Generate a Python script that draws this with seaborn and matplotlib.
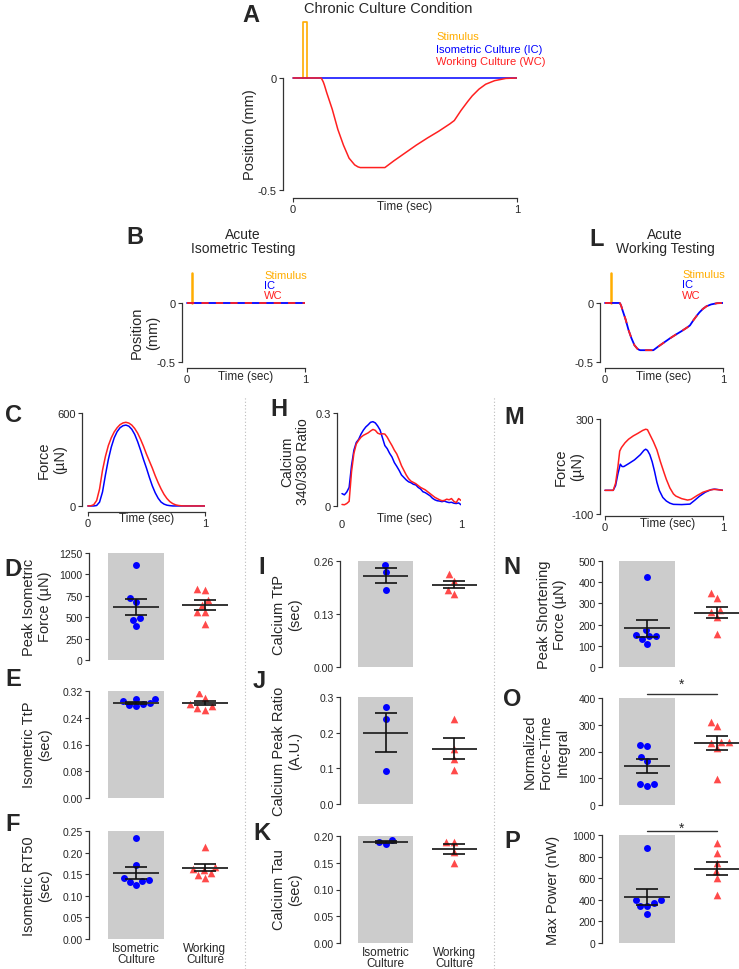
import matplotlib
matplotlib.use("Agg")
import matplotlib.pyplot as plt
import pandas as pd
import seaborn as sns
from matplotlib.lines import Line2D

sns.set_style("ticks")
plt.rcParams["font.family"] = ["Liberation Sans", "DejaVu Sans"]
plt.rcParams["axes.linewidth"] = 0.9
plt.rcParams["axes.edgecolor"] = "#333333"

W, H = 739, 970
BLUE = "#0000ff"
RED = "#ff2020"
TRI = "#ff4a4a"
ORANGE = "#ffad00"
GRAY = "#cccccc"
INK = "#333333"

# ---- position traces (A, B, L) ----
ic_t = [0, 1]
ic_pos = [0, 0]
wc_t = [0, 0.05, 0.10, 0.125, 0.13, 0.135, 0.14, 0.15, 0.175, 0.2, 0.225, 0.25, 0.275, 0.29, 0.3,
        0.35, 0.41, 0.45, 0.5, 0.55, 0.6, 0.65, 0.7, 0.72, 0.75, 0.78, 0.8, 0.83, 0.86, 0.9, 0.95, 1.0]
wc_pos = [0, 0, 0, 0, -0.008, -0.018, -0.032, -0.065, -0.14, -0.23, -0.30, -0.358, -0.388, -0.397,
          -0.40, -0.40, -0.40, -0.37, -0.335, -0.30, -0.268, -0.238, -0.205, -0.19, -0.145, -0.105,
          -0.08, -0.05, -0.028, -0.012, -0.002, 0]
stim_a_x = [0.043, 0.043, 0.061, 0.061]
stim_a_y = [0, 0.25, 0.25, 0]
stim_b_x = [0.04, 0.04]
stim_l_x = [0.055, 0.055]
stim_y = [0, 0.25]

# ---- C: isometric force traces ----
c_t = [0, .025, .05, .075, .1, .125, .15, .175, .2, .225, .25, .275, .3, .325, .35, .375, .4,
       .425, .45, .475, .5, .525, .55, .575, .6, .625, .65, .675, .7, .725, .75, .775, .8,
       .825, .85, .875, .9, .925, .95, .975, 1]
c_ic = [0, 0, 0, 3, 25, 90, 200, 300, 380, 440, 480, 505, 518, 522, 515, 495, 462, 415, 360,
        300, 245, 185, 130, 85, 50, 25, 12, 5, 2, 0, 0, 0, 0, 0, 0, 0, 0, 0, 0, 0, 0]
c_wc = [0, 1, 8, 35, 110, 230, 320, 390, 440, 478, 505, 525, 536, 540, 535, 522, 500, 470, 430,
        385, 335, 290, 245, 195, 150, 110, 75, 48, 28, 15, 7, 3, 1, 0, 0, 0, 0, 0, 0, 0, 0]

# ---- H: calcium traces ----
h_t = [0.00, 0.02, 0.04, 0.06, 0.08, 0.10, 0.12, 0.14, 0.16, 0.18, 0.20, 0.22, 0.24, 0.26, 0.28,
       0.30, 0.32, 0.34, 0.36, 0.38, 0.40, 0.42, 0.44, 0.46, 0.48, 0.50, 0.52, 0.54, 0.56, 0.58,
       0.60, 0.62, 0.64, 0.66, 0.68, 0.70, 0.72, 0.74, 0.76, 0.78, 0.80, 0.82, 0.84, 0.86, 0.88,
       0.90, 0.92, 0.94, 0.96, 0.98, 1.00]
h_ic = [0.040, 0.036, 0.045, 0.060, 0.130, 0.180, 0.205, 0.215, 0.232, 0.245, 0.255, 0.262,
        0.270, 0.272, 0.268, 0.258, 0.245, 0.220, 0.195, 0.185, 0.170, 0.158, 0.140, 0.128,
        0.115, 0.100, 0.092, 0.084, 0.078, 0.075, 0.070, 0.068, 0.060, 0.055, 0.046, 0.043,
        0.038, 0.033, 0.025, 0.020, 0.017, 0.016, 0.014, 0.016, 0.013, 0.011, 0.012, 0.009,
        0.008, 0.010, 0.004]
h_wc = [0.005, 0.004, 0.008, 0.015, 0.110, 0.170, 0.200, 0.212, 0.222, 0.228, 0.232, 0.236,
        0.242, 0.247, 0.244, 0.235, 0.232, 0.233, 0.232, 0.222, 0.208, 0.195, 0.180, 0.168,
        0.150, 0.130, 0.115, 0.100, 0.088, 0.080, 0.076, 0.072, 0.066, 0.060, 0.056, 0.052,
        0.046, 0.040, 0.034, 0.028, 0.024, 0.020, 0.017, 0.018, 0.022, 0.020, 0.024, 0.015,
        0.011, 0.024, 0.018]

# ---- M: working force traces ----
m_ic_t = [0, 0.07, 0.09, 0.11, 0.13, 0.145, 0.16, 0.2, 0.25, 0.3, 0.33, 0.345, 0.36, 0.38, 0.4,
          0.42, 0.44, 0.46, 0.49, 0.52, 0.55, 0.58, 0.65, 0.72, 0.76, 0.8, 0.85, 0.9, 0.93, 0.96, 1.0]
m_ic_f = [0, 0, 20, 70, 110, 100, 100, 112, 128, 150, 168, 173, 168, 150, 120, 80, 34, 0, -30,
          -45, -54, -59, -60, -58, -42, -25, -8, 3, 5, 3, 0]
m_wc_t = [0, 0.07, 0.09, 0.11, 0.125, 0.14, 0.17, 0.2, 0.24, 0.28, 0.32, 0.345, 0.36, 0.38, 0.41,
          0.44, 0.47, 0.5, 0.52, 0.55, 0.58, 0.6, 0.65, 0.7, 0.73, 0.78, 0.83, 0.88, 0.92, 0.95, 1.0]
m_wc_f = [0, 0, 30, 100, 165, 180, 200, 215, 229, 240, 252, 257, 255, 235, 205, 170, 120, 75, 46,
          10, -15, -24, -35, -41, -38, -22, -8, 0, 4, 3, 0]

# ---- scatter panels: individual values, mean, sem (IC, WC) ----
groups = ["Isometric\nCulture", "Working\nCulture"]
d_ic = [1110, 720, 675, 488, 465, 392]
d_wc = [834, 818, 701, 643, 562, 562, 419]
d_mean, d_sem = [624, 640], [93, 60]
e_ic = [0.289, 0.274, 0.283, 0.295, 0.277, 0.297, 0.282]
e_wc = [0.313, 0.299, 0.281, 0.264, 0.270, 0.275]
e_mean, e_sem = [0.284, 0.284], [0.003, 0.0055]
f_ic = [0.233, 0.171, 0.142, 0.135, 0.133, 0.137, 0.125]
f_wc = [0.212, 0.163, 0.167, 0.160, 0.152, 0.148, 0.141]
f_mean, f_sem = [0.153, 0.165], [0.014, 0.008]
i_ic = [0.250, 0.233, 0.189]
i_wc = [0.227, 0.212, 0.190, 0.178]
i_mean, i_sem = [0.224, 0.202], [0.018, 0.009]
j_ic = [0.273, 0.239, 0.092]
j_wc = [0.239, 0.155, 0.126, 0.096]
j_mean, j_sem = [0.200, 0.155], [0.055, 0.030]
k_ic = [0.185, 0.193, 0.189]
k_wc = [0.188, 0.189, 0.170, 0.150]
k_mean, k_sem = [0.189, 0.176], [0.002, 0.009]
n_ic = [425, 175, 151, 146, 134, 146, 110]
n_wc = [348, 324, 269, 259, 236, 154]
n_mean, n_sem = [183, 257], [40, 25]
o_ic = [219, 225, 181, 165, 71, 78, 78]
o_wc = [312, 294, 236, 236, 230, 212, 96]
o_mean, o_sem = [145, 231], [26, 27]
p_ic = [880, 394, 394, 370, 342, 342, 271]
p_wc = [926, 836, 740, 670, 600, 441]
p_mean, p_sem = [427, 688], [77, 62]

fig = plt.figure(figsize=(W / 100, H / 100), dpi=100)


def px_axes(x0, x1, y0, y1):
    return fig.add_axes([x0 / W, 1 - y1 / H, (x1 - x0) / W, (y1 - y0) / H])


def fxy(x, y):
    return x / W, 1 - y / H


def ftext(x, y, s, **kw):
    fig.text(*fxy(x, y), s, **kw)


def trace_axes(box, xlim, ylim, ybounds, yticks, ylabels, ylabel, ylab_xy, xlab_xy, bottom_line=True):
    ax = px_axes(*box)
    ax.set_xlim(*xlim)
    ax.set_ylim(*ylim)
    sns.despine(ax=ax)
    ax.spines["left"].set_bounds(*ybounds)
    ax.spines["bottom"].set_bounds(0, 1)
    if not bottom_line:
        ax.spines["bottom"].set_visible(False)
    ax.set_xticks([0, 1], ["0", "1"])
    ax.set_yticks(yticks, ylabels)
    ax.tick_params(length=3, width=0.8, color=INK, labelsize=8, pad=1.5)
    if not bottom_line:
        ax.tick_params(axis="x", length=0, pad=5)
    if ylabel:
        ax.set_ylabel(ylabel, fontsize=10.5, va="center")
        ax.yaxis.set_label_coords(*fxy(*ylab_xy), transform=fig.transFigure)
    ax.set_xlabel("Time (sec)", fontsize=8.5, va="center")
    ax.xaxis.set_label_coords(*fxy(*xlab_xy), transform=fig.transFigure)
    return ax


def line(ax, x, y, color, lw=1.1, **kw):
    sns.lineplot(x=x, y=y, ax=ax, color=color, lw=lw, sort=False, estimator=None, **kw)


# ---- A ----
ax = trace_axes((283, 517, 18.5, 198.8), (-0.045, 1.0), (-0.535, 0.27), (-0.5, 0), [-0.5, 0],
                ["-0.5", "0"], "Position (mm)", (250, 135), (405, 207))
line(ax, stim_a_x, stim_a_y, ORANGE, lw=1.2)
line(ax, ic_t, ic_pos, BLUE)
line(ax, wc_t, wc_pos, RED)
ftext(388, 9, "Chronic Culture Condition", fontsize=10.5, ha="center", va="center")
for yy, s, c in [(37, "Stimulus", ORANGE), (50, "Isometric Culture (IC)", BLUE), (62, "Working Culture (WC)", RED)]:
    ftext(436, yy, s, color=c, fontsize=8, ha="left", va="center")

# ---- B ----
ax = trace_axes((182, 305, 272.1, 368.9), (-0.042, 1.0), (-0.55, 0.27), (-0.5, 0), [-0.5, 0],
                ["-0.5", "0"], "Position\n(mm)", (145, 333), (246, 377))
line(ax, stim_b_x, stim_y, ORANGE, lw=1.8)
line(ax, ic_t, ic_pos, BLUE, lw=1.3)
line(ax, ic_t, ic_pos, RED, lw=1.3, linestyle=(0, (4, 4)))
ftext(243, 242, "Acute\nIsometric Testing", fontsize=10, ha="center", va="center", linespacing=0.95)
for yy, s, c in [(276, "Stimulus", ORANGE), (286, "IC", BLUE), (296, "WC", RED)]:
    ftext(264, yy, s, color=c, fontsize=8, ha="left", va="center")

# ---- L ----
ax = trace_axes((600, 723, 272.1, 368.9), (-0.042, 1.0), (-0.55, 0.27), (-0.5, 0), [-0.5, 0],
                ["-0.5", "0"], None, None, (664, 377))
line(ax, stim_l_x, stim_y, ORANGE, lw=1.8)
line(ax, wc_t, wc_pos, BLUE, lw=1.3)
line(ax, wc_t, wc_pos, RED, lw=1.3, linestyle=(0, (4, 4)))
ftext(665, 242, "Acute\nWorking Testing", fontsize=10, ha="center", va="center", linespacing=0.95)
for yy, s, c in [(275, "Stimulus", ORANGE), (285, "IC", BLUE), (296, "WC", RED)]:
    ftext(682, yy, s, color=c, fontsize=8, ha="left", va="center")

# ---- C ----
ax = trace_axes((82, 205, 414, 513), (-0.05, 1.0), (-39, 600), (0, 600), [0, 600], ["0", "600"],
                "Force\n(µN)", (52, 460), (147, 519))
line(ax, c_t, c_ic, BLUE)
line(ax, c_t, c_wc, RED)

# ---- H ----
ax = trace_axes((337, 461, 414, 513.2), (-0.042, 1.0), (-0.02, 0.3), (0, 0.3), [0, 0.3], ["0", "0.3"],
                "Calcium\n340/380 Ratio", (295, 462), (405, 519), bottom_line=False)
ax.yaxis.label.set_fontsize(10)
line(ax, h_t, h_ic, BLUE)
line(ax, h_t, h_wc, RED)

# ---- M ----
ax = trace_axes((600, 723, 420, 517), (-0.042, 1.0), (-108, 300), (-100, 300), [-100, 300],
                ["-100", "300"], "Force\n(µN)", (569, 467), (668, 524))
line(ax, m_ic_t, m_ic_f, BLUE)
line(ax, m_wc_t, m_wc_f, RED)


# ---- scatter panels ----
def dot_panel(box, xlim, ymax, yticks, ylabels, iso, work, means, sems, ylabel, lab_xy, bottom=False, sig=None):
    ax = px_axes(*box)
    ax.axvspan(-0.4, 0.4, color=GRAY, lw=0, zorder=0)
    df = pd.DataFrame({"group": [groups[0]] * len(iso) + [groups[1]] * len(work),
                       "value": list(iso) + list(work)})
    sns.swarmplot(data=df[df.group == groups[0]], x="group", y="value", order=groups,
                  color=BLUE, marker="o", size=5, ax=ax, zorder=2)
    sns.swarmplot(data=df[df.group == groups[1]], x="group", y="value", order=groups,
                  color=TRI, marker="^", size=5.5, ax=ax, zorder=2)
    ax.hlines(means, [-0.33, 0.67], [0.33, 1.33], color=INK, lw=1.4, zorder=3, clip_on=False)
    ax.errorbar([0, 1], means, yerr=sems, fmt="none", ecolor="#111111", elinewidth=1.2,
                capsize=8, capthick=1.2, zorder=4)
    ax.set_xlim(*xlim)
    ax.set_ylim(0, ymax)
    for s in ["top", "right", "bottom"]:
        ax.spines[s].set_visible(False)
    ax.set_yticks(yticks, ylabels)
    ax.tick_params(axis="y", length=3, width=0.8, color=INK, labelsize=7.5, pad=1.5)
    ax.tick_params(axis="x", length=0, labelsize=8.5, pad=2)
    ax.set_xlabel("")
    if bottom:
        ax.set_xticks([0, 1], groups)
        for t in ax.get_xticklabels():
            t.set_linespacing(0.95)
    else:
        ax.set_xticks([0, 1], ["", ""])
    ax.set_ylabel(ylabel, fontsize=10.5, va="center")
    ax.yaxis.set_label_coords(*fxy(*lab_xy), transform=fig.transFigure)
    if sig is not None:
        ax.plot([0, 1], [sig[0], sig[0]], color=INK, lw=1.0, clip_on=False)
        ax.text(0.5, sig[1], "*", ha="center", va="center", fontsize=10, clip_on=False)
    return ax


col1 = (89, 236, (-0.68, 1.45))
col2 = (340, 485, (-0.67, 1.45))
col3 = (602, 739, (-0.65, 1.32))

dot_panel((col1[0], col1[1], 554, 661), col1[2], 1250, [0, 250, 500, 750, 1000, 1250],
          ["0", "250", "500", "750", "1000", "1250"], d_ic, d_wc, d_mean, d_sem,
          "Peak Isometric\nForce (µN)", (37, 607))
dot_panel((col1[0], col1[1], 692, 799), col1[2], 0.32, [0, 0.08, 0.16, 0.24, 0.32],
          ["0.00", "0.08", "0.16", "0.24", "0.32"], e_ic, e_wc, e_mean, e_sem,
          "Isometric TtP\n(sec)", (37, 745))
dot_panel((col1[0], col1[1], 832, 940), col1[2], 0.25, [0, 0.05, 0.10, 0.15, 0.20, 0.25],
          ["0.00", "0.05", "0.10", "0.15", "0.20", "0.25"], f_ic, f_wc, f_mean, f_sem,
          "Isometric RT50\n(sec)", (37, 886), bottom=True)

dot_panel((col2[0], col2[1], 562, 668), col2[2], 0.26, [0, 0.13, 0.26], ["0.00", "0.13", "0.26"],
          i_ic, i_wc, i_mean, i_sem, "Calcium TtP\n(sec)", (287, 615))
dot_panel((col2[0], col2[1], 698, 805), col2[2], 0.3, [0, 0.1, 0.2, 0.3], ["0.0", "0.1", "0.2", "0.3"],
          j_ic, j_wc, j_mean, j_sem, "Calcium Peak Ratio\n(A.U.)", (287, 751))
dot_panel((col2[0], col2[1], 837, 944), col2[2], 0.20, [0, 0.05, 0.10, 0.15, 0.20],
          ["0.00", "0.05", "0.10", "0.15", "0.20"], k_ic, k_wc, k_mean, k_sem,
          "Calcium Tau\n(sec)", (287, 890), bottom=True)

dot_panel((col3[0], col3[1], 562, 668), col3[2], 500, [0, 100, 200, 300, 400, 500],
          ["0", "100", "200", "300", "400", "500"], n_ic, n_wc, n_mean, n_sem,
          "Peak Shortening\nForce (µN)", (552, 615))
dot_panel((col3[0], col3[1], 699, 806), col3[2], 400, [0, 100, 200, 300, 400],
          ["0", "100", "200", "300", "400"], o_ic, o_wc, o_mean, o_sem,
          "Normalized\nForce-Time\nIntegral", (546, 752), sig=(415, 455))
dot_panel((col3[0], col3[1], 836, 944), col3[2], 1000, [0, 200, 400, 600, 800, 1000],
          ["0", "200", "400", "600", "800", "1000"], p_ic, p_wc, p_mean, p_sem,
          "Max Power (nW)", (553, 890), sig=(1033, 1068))

# ---- panel letters ----
for s, x, y in [("A", 251, 15), ("B", 135, 237), ("L", 597, 239), ("C", 13, 416), ("H", 279, 409),
                ("M", 514, 418), ("D", 13, 570), ("E", 13, 680), ("F", 13, 825), ("I", 262, 567),
                ("J", 259, 682), ("K", 262, 834), ("N", 512, 567), ("O", 512, 700), ("P", 512, 841)]:
    ftext(x, y, s, fontsize=17, fontweight="bold", ha="center", va="center")

# ---- dotted column separators ----
for x in [245, 494]:
    fig.add_artist(Line2D([x / W, x / W], [0, 1 - 398 / H], transform=fig.transFigure,
                          color="#bbbbbb", lw=0.8, linestyle=(0, (1, 2))))

fig.savefig("out.png", dpi=100)
